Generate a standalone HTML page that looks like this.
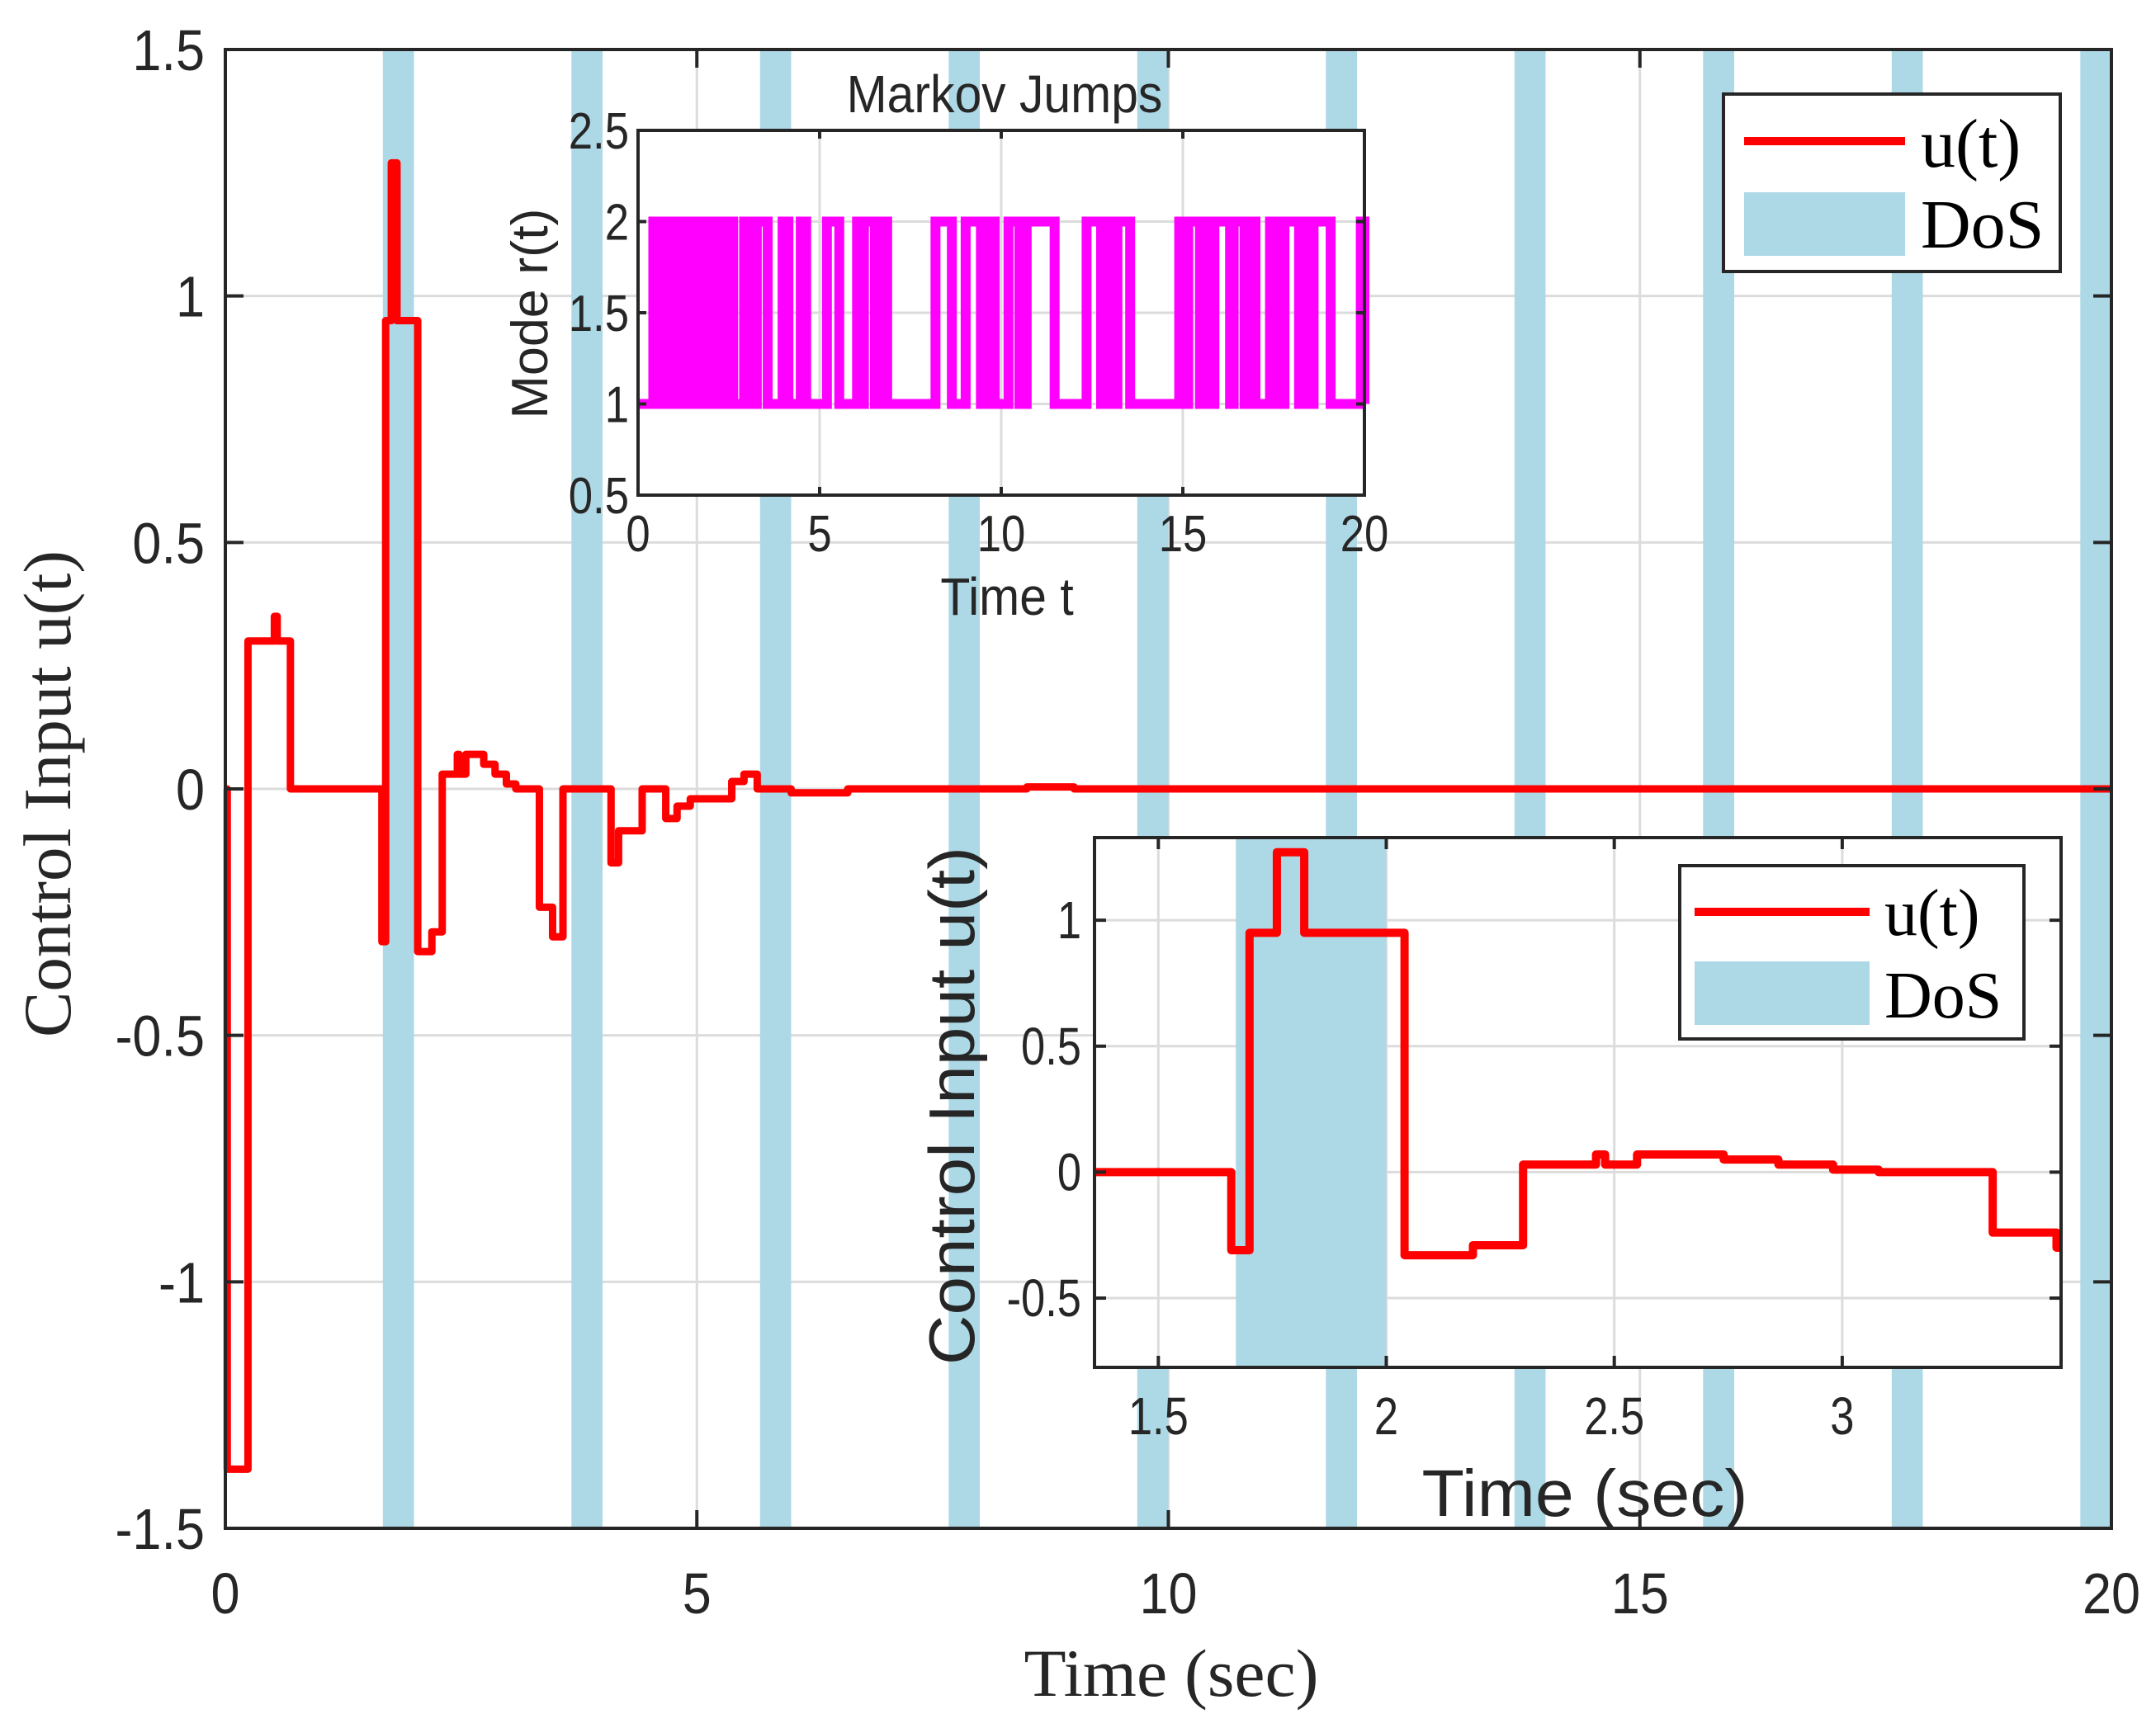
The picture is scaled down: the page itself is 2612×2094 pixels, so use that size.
<!DOCTYPE html>
<html><head><meta charset="utf-8"><style>html,body{margin:0;padding:0;background:#fff}svg{display:block}</style></head>
<body>
<svg id="chart" xmlns="http://www.w3.org/2000/svg" width="2612" height="2094" viewBox="0 0 2612 2094">
<rect width="2612" height="2094" fill="#fff"/>
<g id="main"></g><g id="ins1"></g><g id="ins2"></g>
</svg>
<script>
// ---------- data ----------
const dosStarts = [1.67, 3.67, 5.67, 7.67, 9.67, 11.67, 13.67, 15.67, 17.67, 19.67];
const dosWidth = 0.33;
// step signal u(t): change times and values held from that time
const uTimes = [0, 0.02, 0.24, 0.52, 0.55, 0.69, 1.66, 1.70, 1.76, 1.82, 2.04, 2.19, 2.30, 2.46, 2.48, 2.55, 2.74, 2.86, 2.98, 3.08, 3.33, 3.47, 3.58, 4.09, 4.17, 4.42, 4.67, 4.79, 4.93, 5.37, 5.50, 5.64, 6.0, 6.6, 8.5, 9.0, 20];
const uValues = [0, -1.38, 0.30, 0.35, 0.30, 0, -0.31, 0.95, 1.27, 0.95, -0.33, -0.29, 0.03, 0.07, 0.03, 0.07, 0.05, 0.03, 0.01, 0, -0.24, -0.30, 0, -0.15, -0.085, 0, -0.06, -0.035, -0.02, 0.015, 0.03, 0.0, -0.008, 0.0, 0.004, 0.0, 0];
// Markov mode intervals where r(t)=2 (else 1)
const mode2Start = [0.42, 0.54, 0.62, 0.8, 0.95, 1.26, 1.67, 2.05, 2.36, 2.55, 2.92, 3.27, 3.98, 4.48, 5.2, 6.03, 6.22, 6.67, 8.19, 9.02, 9.55, 10.2, 10.7, 12.35, 12.83, 13.2, 14.9, 15.15, 15.6, 15.87, 16.4, 16.8, 17.4, 17.8, 18.3, 18.6, 19.9];
const mode2End   = [0.5, 0.58, 0.75, 0.9, 1.07, 1.45, 1.9, 2.2, 2.47, 2.62, 3.19, 3.57, 4.14, 4.63, 5.54, 6.14, 6.52, 6.86, 8.64, 9.44, 9.82, 10.5, 11.47, 12.75, 13.1, 13.55, 15.07, 15.47, 15.8, 16.3, 16.7, 17.0, 17.55, 18.2, 18.5, 19.07, 20];
const mainXTicks = [0, 5, 10, 15, 20];
const mainYTicks = [-1.5, -1, -0.5, 0, 0.5, 1, 1.5];
const mainYLabels = ["-1.5", "-1", "-0.5", "0", "0.5", "1", "1.5"];
const in1XTicks = [0, 5, 10, 15, 20];
const in1YTicks = [0.5, 1, 1.5, 2, 2.5];
const in1YLabels = ["0.5", "1", "1.5", "2", "2.5"];
const in2XTicks = [1.5, 2, 2.5, 3];
const in2YTicks = [-0.5, 0, 0.5, 1];
const in2YLabels = ["-0.5", "0", "0.5", "1"];

const NS = "http://www.w3.org/2000/svg";
function mk(parent, tag, attrs, txt) {
  const e = document.createElementNS(NS, tag);
  for (const k in attrs) e.setAttribute(k, attrs[k]);
  if (txt !== undefined) e.textContent = txt;
  parent.appendChild(e);
  return e;
}
const SANS = '"Liberation Sans", Arial, sans-serif';
const SERIF = '"Liberation Serif", "Times New Roman", serif';
function ctext(parent, x, y, s, size, anchor, fam, sx, name) {
  const g = mk(parent, 'g', {transform: `translate(${x},${y}) scale(${sx},1)`});
  const t = mk(g, 'text', {x: 0, y: 0, 'font-size': size, 'font-family': fam, 'text-anchor': anchor, fill: '#262626'}, s);
  
  
  return t;
}

function drawAxes(g, box, xr, yr, opts) {
  const X = t => box.l + (t - xr[0]) / (xr[1] - xr[0]) * (box.r - box.l);
  const Y = v => box.b - (v - yr[0]) / (yr[1] - yr[0]) * (box.b - box.t);
  if (opts.white) {
    const bg = mk(g, 'rect', {x: box.l, y: box.t, width: box.r - box.l, height: box.b - box.t, fill: '#fff'});
    
    
  }
  return {X, Y};
}

function grid(g, box, X, Y, xt, yt) {
  const gg = mk(g, 'g', {stroke: '#dcdcdc', 'stroke-width': 3});
  
  
  xt.forEach(t => { const x = X(t); if (x > box.l + 2 && x < box.r - 2) mk(gg, 'line', {x1: x, x2: x, y1: box.t, y2: box.b}); });
  yt.forEach(v => { const y = Y(v); if (y > box.t + 2 && y < box.b - 2) mk(gg, 'line', {x1: box.l, x2: box.r, y1: y, y2: y}); });
}

function dos(g, box, X) {
  const gd = mk(g, 'g', {fill: '#add8e6'});
  
  
  dosStarts.forEach(s => {
    let x1 = X(s), x2 = X(s + dosWidth);
    x1 = Math.max(x1, box.l); x2 = Math.min(x2, box.r + 6);
    if (x2 <= x1) return;
    const r = mk(gd, 'rect', {x: x1, y: box.t, width: x2 - x1, height: box.b - box.t});
    
    
  });
}

function stepPath(X, Y) {
  let d = `M${X(uTimes[0])},${Y(0)}`;
  for (let i = 0; i < uTimes.length - 1; i++) {
    d += ` L${X(uTimes[i])},${Y(uValues[i])} L${X(uTimes[i + 1])},${Y(uValues[i])}`;
  }
  return d;
}

function frame(g, box, X, Y, xt, yt, tl) {
  const gf = mk(g, 'g', {stroke: '#262626', 'stroke-width': 4, fill: 'none'});
  
  
  mk(gf, 'rect', {x: box.l, y: box.t, width: box.r - box.l, height: box.b - box.t});
  xt.forEach(t => { const x = X(t); mk(gf, 'line', {x1: x, x2: x, y1: box.b, y2: box.b - tl}); mk(gf, 'line', {x1: x, x2: x, y1: box.t, y2: box.t + tl}); });
  yt.forEach(v => { const y = Y(v); mk(gf, 'line', {x1: box.l, x2: box.l + tl, y1: y, y2: y}); mk(gf, 'line', {x1: box.r, x2: box.r - tl, y1: y, y2: y}); });
}

function legend(g, b, lx1, lx2, ly, py1, py2, tx, ty1, ty2, fs) {
  const gl = mk(g, 'g', {});
  
  
  mk(gl, 'rect', {x: b[0], y: b[1], width: b[2] - b[0], height: b[3] - b[1], fill: '#fff', stroke: '#262626', 'stroke-width': 4});
  const ln = mk(gl, 'line', {x1: lx1, x2: lx2, y1: ly, y2: ly, stroke: '#ff0000', 'stroke-width': 10});
  
  
  const pr = mk(gl, 'rect', {x: lx1, y: py1, width: lx2 - lx1, height: py2 - py1, fill: '#add8e6'});
  
  
  const t1 = mk(gl, 'text', {x: tx, y: ty1, 'font-size': fs, 'font-family': SERIF, fill: '#000'}, 'u(t)');
  
  
  const t2 = mk(gl, 'text', {x: tx, y: ty2, 'font-size': fs, 'font-family': SERIF, fill: '#000'}, 'DoS');
  
  
}

// ---------- main axes ----------
(function () {
  const g = document.getElementById('main');
  
  
  const box = {l: 273, r: 2558, t: 60, b: 1852};
  const {X, Y} = drawAxes(g, box, [0, 20], [-1.5, 1.5], {});
  grid(g, box, X, Y, mainXTicks, mainYTicks);
  dos(g, box, X);
  const p = mk(g, 'path', {d: stepPath(X, Y), fill: 'none', stroke: '#ff0000', 'stroke-width': 9, 'stroke-linejoin': 'round'});
  
  
  frame(g, box, X, Y, mainXTicks, mainYTicks, 22);
  mainXTicks.forEach(t => ctext(g, X(t), 1955, String(t), 70, 'middle', SANS, 0.9, 'x-tick-label'));
  mainYTicks.forEach((v, i) => ctext(g, 248, Y(v) + 25, mainYLabels[i], 70, 'end', SANS, 0.9, 'y-tick-label'));
  const xl = mk(g, 'text', {x: 1419, y: 2055, 'font-size': 82, 'font-family': SERIF, 'text-anchor': 'middle', fill: '#262626', textLength: 357, lengthAdjust: 'spacingAndGlyphs'}, 'Time (sec)');
  
  
  const yl = mk(g, 'text', {x: 0, y: 0, transform: 'translate(85,962) rotate(-90)', 'font-size': 82, 'font-family': SERIF, 'text-anchor': 'middle', fill: '#262626', textLength: 590, lengthAdjust: 'spacingAndGlyphs'}, 'Control Input u(t)');
  
  
  legend(g, [2088, 114, 2496, 329], 2113, 2308, 171, 233, 310, 2327, 202, 300, 84);
})();

// ---------- inset 1: Markov jumps ----------
(function () {
  const g = document.getElementById('ins1');
  
  
  const box = {l: 773, r: 1653, t: 158, b: 600};
  const {X, Y} = drawAxes(g, box, [0, 20], [0.5, 2.5], {white: true});
  grid(g, box, X, Y, in1XTicks, in1YTicks);
  let d = `M${X(0)},${Y(1)}`;
  for (let i = 0; i < mode2Start.length; i++) {
    d += ` L${X(mode2Start[i])},${Y(1)} L${X(mode2Start[i])},${Y(2)} L${X(mode2End[i])},${Y(2)} L${X(mode2End[i])},${Y(1)}`;
  }
  d += ` L${X(20)},${Y(1)}`;
  const p = mk(g, 'path', {d: d, fill: 'none', stroke: '#ff00ff', 'stroke-width': 12, 'stroke-linejoin': 'miter'});
  
  
  frame(g, box, X, Y, in1XTicks, in1YTicks, 10);
  in1XTicks.forEach(t => ctext(g, X(t), 668, String(t), 62, 'middle', SANS, 0.85, 'inset1-x-tick-label'));
  in1YTicks.forEach((v, i) => ctext(g, 762, Y(v) + 22, in1YLabels[i], 62, 'end', SANS, 0.85, 'inset1-y-tick-label'));
  ctext(g, 1217, 136, 'Markov Jumps', 64, 'middle', SANS, 0.92, 'inset1-title');
  ctext(g, 1220, 745, 'Time t', 64, 'middle', SANS, 0.92, 'inset1-x-axis-title');
  const yl = mk(g, 'text', {x: 0, y: 0, transform: 'translate(663,380) rotate(-90)', 'font-size': 62, 'font-family': SANS, 'text-anchor': 'middle', fill: '#262626', textLength: 255, lengthAdjust: 'spacingAndGlyphs'}, 'Mode r(t)');
  
  
})();

// ---------- inset 2: zoom ----------
(function () {
  const g = document.getElementById('ins2');
  
  
  const box = {l: 1326, r: 2497, t: 1015, b: 1657};
  const {X, Y} = drawAxes(g, box, [1.36, 3.48], [-0.775, 1.328], {white: true});
  grid(g, box, X, Y, in2XTicks, in2YTicks);
  const cp = mk(g, 'clipPath', {id: 'c2'});
  mk(cp, 'rect', {x: box.l, y: box.t, width: box.r - box.l, height: box.b - box.t});
  const inner = mk(g, 'g', {'clip-path': 'url(#c2)'});
  dos(inner, box, X);
  const p = mk(inner, 'path', {d: stepPath(X, Y), fill: 'none', stroke: '#ff0000', 'stroke-width': 10, 'stroke-linejoin': 'round'});
  
  
  frame(g, box, X, Y, in2XTicks, in2YTicks, 14);
  in2XTicks.forEach(t => ctext(g, X(t), 1738, String(t), 64, 'middle', SANS, 0.82, 'inset2-x-tick-label'));
  in2YTicks.forEach((v, i) => ctext(g, 1310, Y(v) + 22, in2YLabels[i], 64, 'end', SANS, 0.82, 'inset2-y-tick-label'));
  const xl = mk(g, 'text', {x: 1920, y: 1837, 'font-size': 80, 'font-family': SANS, 'text-anchor': 'middle', fill: '#262626', textLength: 395, lengthAdjust: 'spacingAndGlyphs'}, 'Time (sec)');
  
  
  const yl = mk(g, 'text', {x: 0, y: 0, transform: 'translate(1180,1340) rotate(-90)', 'font-size': 78, 'font-family': SANS, 'text-anchor': 'middle', fill: '#262626', textLength: 628, lengthAdjust: 'spacingAndGlyphs'}, 'Control Input u(t)');
  
  
  legend(g, [2035, 1049, 2452, 1259], 2053, 2265, 1105, 1165, 1242, 2283, 1133, 1233, 80);
})();
</script>
</body></html>
